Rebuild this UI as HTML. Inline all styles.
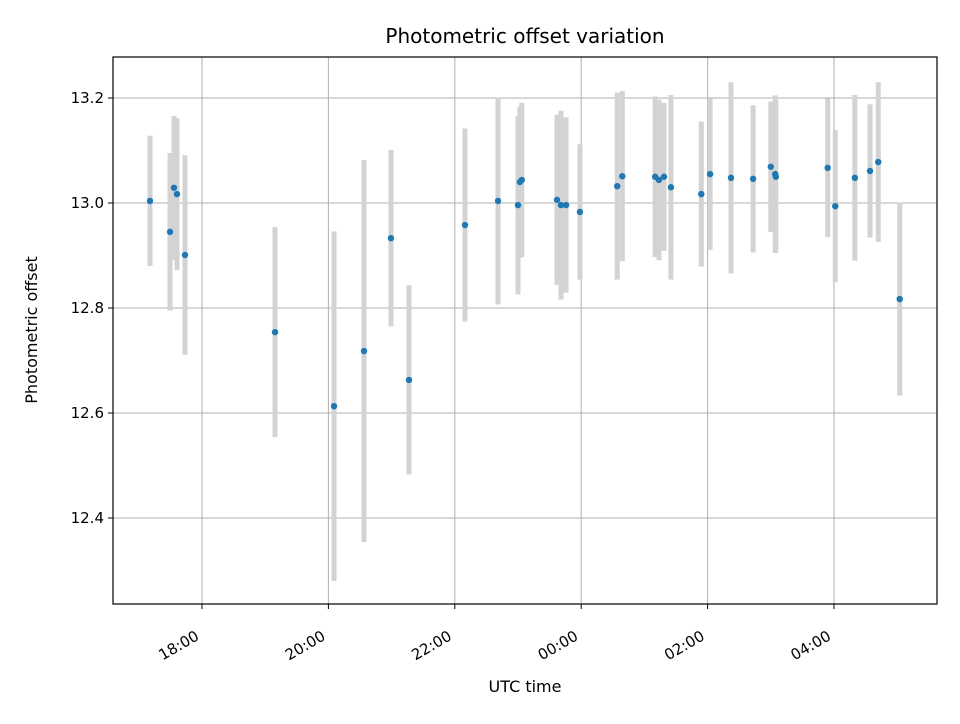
<!DOCTYPE html>
<html><head><meta charset="utf-8"><style>
body{margin:0;background:#fff;font-family:"DejaVu Sans","Liberation Sans",sans-serif}
</style></head><body>
<svg id="chart" width="960" height="720" xmlns="http://www.w3.org/2000/svg" font-family="DejaVu Sans, Liberation Sans, sans-serif">
<rect width="960" height="720" fill="#fff"/>
<text x="525" y="43" text-anchor="middle" font-size="20">Photometric offset variation</text>
<g id="grid"></g><g id="bars"></g><g id="dots"></g><g id="axes"></g>
<rect x="113" y="57" width="824" height="547" fill="none" stroke="#000" stroke-width="1.2"/>
<text x="525" y="692" text-anchor="middle" font-size="16">UTC time</text>
<text transform="translate(37,330) rotate(-90)" text-anchor="middle" font-size="16">Photometric offset</text>
</svg>
<script>
// hours since 18:00 UTC
const times=[-0.823,-0.506,-0.443,-0.396,-0.269,1.155,2.089,2.563,2.99,3.275,4.161,4.684,5.0,5.03,5.06,5.617,5.68,5.76,5.98,6.57,6.65,7.17,7.23,7.31,7.42,7.9,8.04,8.37,8.72,9.0,9.07,9.08,9.9,10.02,10.33,10.57,10.7,11.04];
const offsets=[13.004,12.945,13.029,13.017,12.901,12.754,12.613,12.718,12.933,12.663,12.958,13.004,12.996,13.04,13.044,13.006,12.996,12.996,12.983,13.032,13.051,13.05,13.044,13.05,13.03,13.017,13.055,13.048,13.046,13.069,13.055,13.05,13.067,12.994,13.048,13.061,13.078,12.817];
const errors=[0.124,0.15,0.137,0.145,0.19,0.2,0.333,0.364,0.168,0.18,0.184,0.197,0.17,0.144,0.147,0.162,0.18,0.167,0.129,0.178,0.162,0.153,0.153,0.141,0.176,0.138,0.144,0.182,0.14,0.124,0.15,0.145,0.132,0.145,0.158,0.127,0.152,0.184];
const xTickHours=[0,2,4,6,8,10];
const xTickLabels=["18:00","20:00","22:00","00:00","02:00","04:00"];
const yTicks=[12.4,12.6,12.8,13.0,13.2];
const NS="http://www.w3.org/2000/svg";
const X=h=>202+h*63.2;
const Y=v=>203-(v-13.0)*525;
function mk(tag,attrs,parent){const e=document.createElementNS(NS,tag);for(const k in attrs)e.setAttribute(k,attrs[k]);document.getElementById(parent).appendChild(e);return e;}
xTickHours.forEach((h,i)=>{
  const x=X(h);
  const g=mk('line',{x1:x,x2:x,y1:57,y2:604,stroke:'#b0b0b0','stroke-width':1},'grid');
  
  
  const t=mk('line',{x1:x,x2:x,y1:604,y2:609,stroke:'#000'},'axes');
  
  
  const ax=x-2, ay=639;
  const l=mk('text',{x:ax,y:ay,'font-size':15,'text-anchor':'end',transform:`rotate(-30 ${ax} ${ay})`},'axes');
  l.textContent=xTickLabels[i];
  
  
});
yTicks.forEach(v=>{
  const y=Y(v);
  const g=mk('line',{x1:113,x2:937,y1:y,y2:y,stroke:'#b0b0b0','stroke-width':1},'grid');
  
  
  const t=mk('line',{x1:108,x2:113,y1:y,y2:y,stroke:'#000'},'axes');
  
  
  const l=mk('text',{x:104,y:y+5,'font-size':15,'text-anchor':'end'},'axes');
  l.textContent=v.toFixed(1);
  
  
});
times.forEach((h,i)=>{
  const x=X(h);
  const b=mk('line',{x1:x,x2:x,y1:Y(offsets[i]+errors[i]),y2:Y(offsets[i]-errors[i]),stroke:'#d3d3d3','stroke-width':5},'bars');
  
  
});
times.forEach((h,i)=>{
  const c=mk('circle',{cx:X(h),cy:Y(offsets[i]),r:3.2,fill:'#1f77b4'},'dots');
  
  
});
</script>
</body></html>
